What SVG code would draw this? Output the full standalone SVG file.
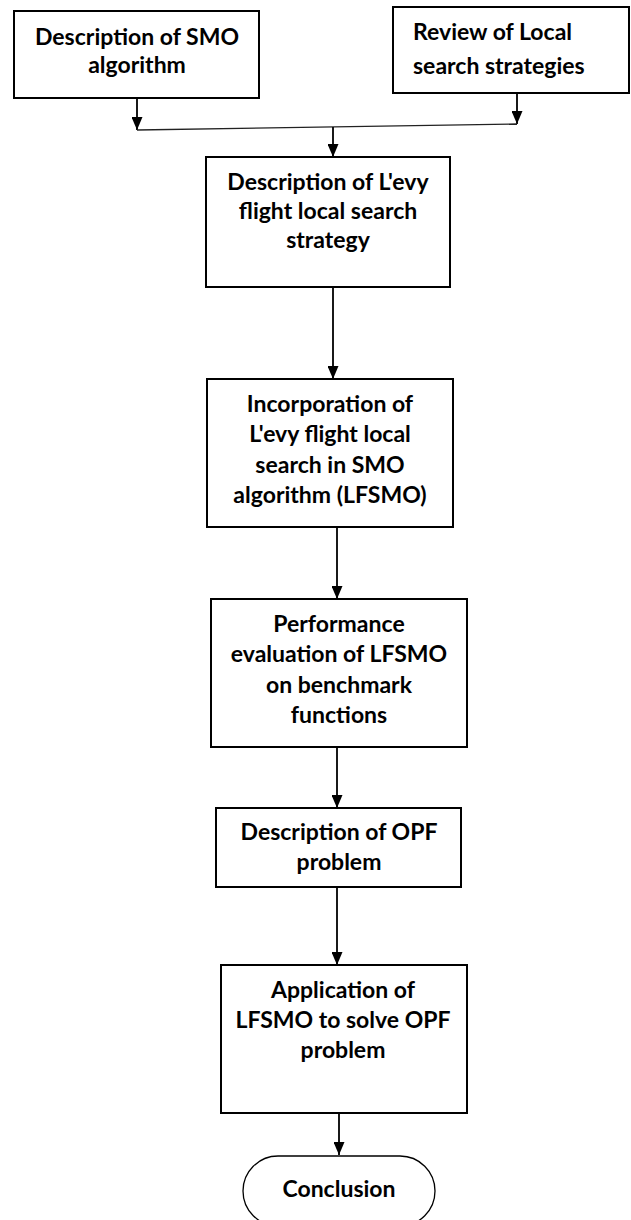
<svg xmlns="http://www.w3.org/2000/svg" width="631" height="1220" viewBox="0 0 631 1220">
<style>
.box{fill:#fff;stroke:#000;stroke-width:2}
.term{fill:#fff;stroke:#000;stroke-width:1.3}
.t{font-family:Lato,"Liberation Sans",sans-serif;font-weight:bold;font-size:23px;fill:#000;text-anchor:middle}
.tl{text-anchor:start}
.c{fill:none;stroke:#000;stroke-width:1.8}
.h{fill:none;stroke:#222;stroke-width:1.3}
</style>
<defs>
<marker id="ah" markerUnits="userSpaceOnUse" markerWidth="13" markerHeight="11" refX="13" refY="5.5" orient="auto" viewBox="0 0 13 11">
<path d="M0,0 L13,5.5 L0,11 Z" fill="#000"/>
</marker>
</defs>
<rect width="631" height="1220" fill="#fff"/>
<g id="connectors">
<path class="c" d="M137,98 V130" marker-end="url(#ah)"/>
<path class="c" d="M517,93 V124" marker-end="url(#ah)"/>
<path class="h" d="M137,130 L517,124"/>
<path class="c" d="M333,127 V157" marker-end="url(#ah)"/>
<path class="c" d="M333,287 V379" marker-end="url(#ah)"/>
<path class="c" d="M337,527 V599" marker-end="url(#ah)"/>
<path class="c" d="M337,747 V808" marker-end="url(#ah)"/>
<path class="c" d="M337,887 V965" marker-end="url(#ah)"/>
<path class="c" d="M339,1113 V1155" marker-end="url(#ah)"/>
</g>
<g id="n1">
<rect class="box" x="14" y="11" width="245" height="87"/>
<text class="t" x="137" y="45">Description of SMO</text>
<text class="t" x="137" y="73">algorithm</text>
</g>
<g id="n2">
<rect class="box" x="393" y="7" width="236" height="86"/>
<text class="t tl" x="413" y="40">Review of Local</text>
<text class="t tl" x="413" y="74">search strategies</text>
</g>
<g id="n3">
<rect class="box" x="206" y="157" width="244" height="130"/>
<text class="t" x="328" y="190">Description of L'evy</text>
<text class="t" x="328" y="219">flight local search</text>
<text class="t" x="328" y="248">strategy</text>
</g>
<g id="n4">
<rect class="box" x="207" y="379" width="246" height="148"/>
<text class="t" x="330" y="412">Incorporation of</text>
<text class="t" x="330" y="442">L'evy flight local</text>
<text class="t" x="330" y="473">search in SMO</text>
<text class="t" x="330" y="503">algorithm (LFSMO)</text>
</g>
<g id="n5">
<rect class="box" x="211" y="599" width="256" height="148"/>
<text class="t" x="339" y="632">Performance</text>
<text class="t" x="339" y="662">evaluation of LFSMO</text>
<text class="t" x="339" y="693">on benchmark</text>
<text class="t" x="339" y="723">functions</text>
</g>
<g id="n6">
<rect class="box" x="216" y="808" width="245" height="79"/>
<text class="t" x="339" y="840">Description of OPF</text>
<text class="t" x="339" y="870">problem</text>
</g>
<g id="n7">
<rect class="box" x="221" y="965" width="246" height="148"/>
<text class="t" x="343" y="998">Application of</text>
<text class="t" x="343" y="1028">LFSMO to solve OPF</text>
<text class="t" x="343" y="1058">problem</text>
</g>
<g id="n8">
<rect class="term" x="243" y="1156" width="192" height="70" rx="35" ry="35"/>
<text class="t" x="339" y="1197">Conclusion</text>
</g>
</svg>
